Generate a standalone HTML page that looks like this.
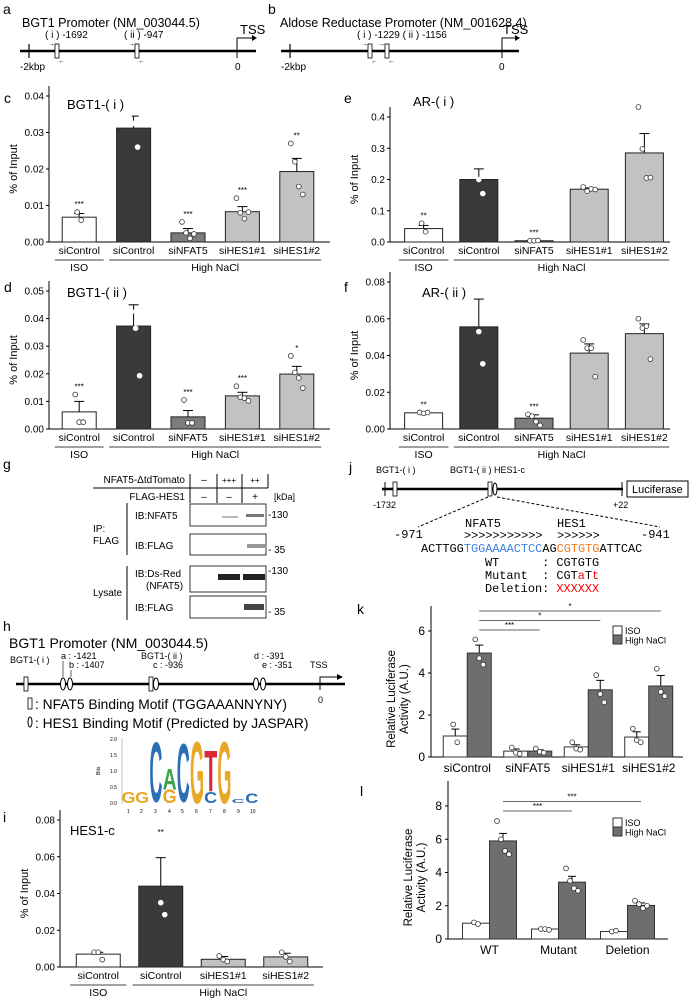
<!DOCTYPE html>
<html><head><meta charset="utf-8">
<style>
html,body{margin:0;padding:0;background:#fff;}
svg{display:block;font-family:"Liberation Sans",sans-serif;}
.mono{font-family:"Liberation Mono",monospace;white-space:pre;}
</style></head>
<body>
<svg id="fig" width="695" height="999" viewBox="0 0 695 999" xmlns="http://www.w3.org/2000/svg">
<!-- panel a -->
<g font-size="11">
<text x="3" y="14" font-size="14">a</text>
<text x="22" y="27" font-size="12.5">BGT1 Promoter (NM_003044.5)</text>
<line x1="20" y1="51" x2="256" y2="51" stroke="#000" stroke-width="2.5"/>
<line x1="29" y1="44" x2="29" y2="58" stroke="#000" stroke-width="1.2"/>
<text x="20" y="70" font-size="10">-2kbp</text>
<rect x="55" y="44" width="4" height="14" fill="#fff" stroke="#000" stroke-width="0.8"/>
<text x="45" y="38" font-size="10">( i ) -1692</text>
<text x="48" y="46" font-size="7">→</text><text x="58" y="63" font-size="7">←</text>
<rect x="135" y="44" width="4" height="14" fill="#fff" stroke="#000" stroke-width="0.8"/>
<text x="124" y="38" font-size="10">( ii ) -947</text>
<text x="128" y="46" font-size="7">→</text><text x="138" y="63" font-size="7">←</text>
<line x1="237" y1="44" x2="237" y2="58" stroke="#000"/>
<polyline points="237,44 237,38 252,38" fill="none" stroke="#000"/>
<polygon points="252,35 257,38 252,41" fill="#000"/>
<text x="240" y="34" font-size="13">TSS</text>
<text x="235" y="70" font-size="10">0</text>
</g>
<!-- panel b -->
<g font-size="11">
<text x="268" y="14" font-size="14">b</text>
<text x="280" y="27" font-size="12.5">Aldose Reductase Promoter (NM_001628.4)</text>
<line x1="281" y1="51" x2="519" y2="51" stroke="#000" stroke-width="2.5"/>
<line x1="290" y1="44" x2="290" y2="58" stroke="#000" stroke-width="1.2"/>
<text x="281" y="70" font-size="10">-2kbp</text>
<rect x="368" y="44" width="4" height="14" fill="#fff" stroke="#000" stroke-width="0.8"/>
<rect x="385" y="44" width="4" height="14" fill="#fff" stroke="#000" stroke-width="0.8"/>
<text x="357" y="38" font-size="10">( i ) -1229 ( ii ) -1156</text>
<text x="361" y="46" font-size="7">→</text><text x="371" y="63" font-size="7">←</text>
<text x="378" y="46" font-size="7">→</text><text x="388" y="63" font-size="7">←</text>
<line x1="502" y1="44" x2="502" y2="58" stroke="#000"/>
<polyline points="502,44 502,38 515,38" fill="none" stroke="#000"/>
<polygon points="515,35 520,38 515,41" fill="#000"/>
<text x="503" y="34" font-size="13">TSS</text>
<text x="499" y="70" font-size="10">0</text>
</g>
<text x="4" y="103" font-size="14">c</text>
<text x="4" y="292" font-size="14">d</text>
<text x="344" y="103" font-size="14">e</text>
<text x="344" y="292" font-size="14">f</text>
<!-- panel g -->
<g font-size="10">
<text x="3" y="469" font-size="14">g</text>
<text x="185" y="483" text-anchor="end">NFAT5-ΔtdTomato</text>
<text x="185" y="500" text-anchor="end">FLAG-HES1</text>
<line x1="93" y1="488" x2="268" y2="488" stroke="#000"/>
<line x1="190" y1="474" x2="190" y2="503" stroke="#000"/>
<line x1="217" y1="474" x2="217" y2="503" stroke="#000"/>
<line x1="242" y1="474" x2="242" y2="503" stroke="#000"/>
<line x1="268" y1="474" x2="268" y2="488" stroke="#000"/>
<text x="204" y="483" text-anchor="middle">–</text><text x="229" y="483" text-anchor="middle" font-size="8">+++</text><text x="255" y="483" text-anchor="middle" font-size="8">++</text>
<text x="204" y="500" text-anchor="middle">–</text><text x="229" y="500" text-anchor="middle">–</text><text x="255" y="500" text-anchor="middle">+</text>
<text x="274" y="500" font-size="9">[kDa]</text>
<rect x="190" y="504" width="76" height="22" fill="#fff" stroke="#000" stroke-width="0.8"/>
<rect x="190" y="534" width="76" height="21" fill="#fff" stroke="#000" stroke-width="0.8"/>
<rect x="190" y="566" width="76" height="26" fill="#fff" stroke="#000" stroke-width="0.8"/>
<rect x="190" y="596" width="76" height="22" fill="#fff" stroke="#000" stroke-width="0.8"/>
<rect x="222" y="516" width="16" height="2" fill="#bbb"/><rect x="246" y="514" width="18" height="3" fill="#777"/>
<rect x="247" y="544" width="18" height="4" fill="#999"/>
<rect x="218" y="574" width="22" height="6" fill="#222"/><rect x="243" y="574" width="22" height="6" fill="#222"/>
<rect x="244" y="604" width="20" height="6" fill="#444"/>
<text x="135" y="519">IB:NFAT5</text><text x="135" y="549">IB:FLAG</text>
<text x="135" y="577">IB:Ds-Red</text><text x="146" y="589">(NFAT5)</text>
<text x="135" y="611">IB:FLAG</text>
<line x1="127" y1="503" x2="127" y2="555" stroke="#000"/>
<line x1="127" y1="566" x2="127" y2="620" stroke="#000"/>
<text x="93" y="532">IP:</text><text x="93" y="544">FLAG</text>
<text x="93" y="596">Lysate</text>
<text x="268" y="518">-130</text><text x="268" y="553">- 35</text>
<text x="268" y="574">-130</text><text x="268" y="615">- 35</text>
</g>
<!-- panel h -->
<g font-size="9">
<text x="3" y="631" font-size="14">h</text>
<text x="9" y="648" font-size="14">BGT1 Promoter (NM_003044.5)</text>
<line x1="16" y1="684" x2="345" y2="684" stroke="#000" stroke-width="2.5"/>
<text x="10" y="663">BGT1-( i )</text>
<rect x="24" y="677" width="4" height="14" fill="#fff" stroke="#000" stroke-width="0.8"/>
<text x="61" y="659">a : -1421</text><text x="69" y="668">b : -1407</text>
<line x1="63" y1="661" x2="63" y2="677" stroke="#000" stroke-width="0.6"/><line x1="71" y1="670" x2="71" y2="677" stroke="#000" stroke-width="0.6"/>
<ellipse cx="63" cy="684" rx="2.5" ry="6" fill="#fff" stroke="#000"/><ellipse cx="70" cy="684" rx="2.5" ry="6" fill="#fff" stroke="#000"/>
<text x="141" y="659">BGT1-( ii )</text><text x="153" y="668">c : -936</text>
<rect x="149" y="677" width="4" height="14" fill="#fff" stroke="#000" stroke-width="0.8"/>
<ellipse cx="156" cy="684" rx="2.5" ry="6" fill="#fff" stroke="#000"/>
<text x="254" y="659">d : -391</text><text x="262" y="668">e : -351</text>
<ellipse cx="256" cy="684" rx="2.5" ry="6" fill="#fff" stroke="#000"/><ellipse cx="263" cy="684" rx="2.5" ry="6" fill="#fff" stroke="#000"/>
<text x="310" y="668">TSS</text>
<polyline points="320,690 320,677 338,677" fill="none" stroke="#000"/>
<polygon points="337,674 343,677 337,680" fill="#000"/>
<text x="318" y="703">0</text>
<rect x="28" y="698" width="4" height="11" fill="#fff" stroke="#000" stroke-width="0.8"/>
<text x="35" y="709" font-size="13.8">: NFAT5 Binding Motif (TGGAAANNYNY)</text>
<ellipse cx="30" cy="722" rx="2" ry="5" fill="#fff" stroke="#000"/>
<text x="35" y="728" font-size="13.8">: HES1 Binding Motif (Predicted by JASPAR)</text>
<g id="logo" font-size="5">
<line x1="122" y1="738" x2="122" y2="804" stroke="#888" stroke-width="0.5"/>
<text x="110" y="741">2.0</text><text x="110" y="757">1.5</text><text x="110" y="773">1.0</text><text x="110" y="789">0.5</text><text x="110" y="805">0.0</text>
<text x="100" y="775" transform="rotate(-90 100 775)">Bits</text>
<text x="127" y="813">1</text><text x="140" y="813">2</text><text x="154" y="813">3</text><text x="168" y="813">4</text><text x="181" y="813">5</text><text x="195" y="813">6</text><text x="209" y="813">7</text><text x="223" y="813">8</text><text x="237" y="813">9</text><text x="250" y="813">10</text>
</g>
</g>
<text x="3" y="822" font-size="14">i</text>
<!-- panel j -->
<g font-size="9">
<text x="349" y="472" font-size="14">j</text>
<text x="376" y="473">BGT1-( i )</text>
<text x="450" y="473">BGT1-( ii ) HES1-c</text>
<line x1="382" y1="489" x2="623" y2="489" stroke="#000" stroke-width="2.5"/>
<line x1="385" y1="482" x2="385" y2="496" stroke="#000"/>
<line x1="622" y1="482" x2="622" y2="496" stroke="#000"/>
<rect x="393" y="482" width="4" height="14" fill="#fff" stroke="#000" stroke-width="0.8"/>
<rect x="488" y="482" width="4" height="14" fill="#fff" stroke="#000" stroke-width="0.8"/>
<ellipse cx="495" cy="489" rx="2" ry="6" fill="#fff" stroke="#000"/>
<rect x="627" y="481" width="61" height="16" fill="#fff" stroke="#000"/>
<text x="632" y="493" font-size="11">Luciferase</text>
<text x="373" y="508">-1732</text><text x="613" y="508">+22</text>
<line x1="488" y1="497" x2="418" y2="527" stroke="#000" stroke-dasharray="3,2"/>
<line x1="497" y1="497" x2="660" y2="527" stroke="#000" stroke-dasharray="3,2"/>
<g class="mono" font-size="11.9">
<text x="394" y="538" font-size="12">-971</text><text x="641" y="538" font-size="12">-941</text>
<text x="465" y="527" font-size="12">NFAT5</text><text x="557" y="527" font-size="12">HES1</text>
<text x="464" y="539">&gt;&gt;&gt;&gt;&gt;&gt;&gt;&gt;&gt;&gt;&gt;</text>
<text x="557" y="539">&gt;&gt;&gt;&gt;&gt;&gt;</text>
<text x="421" y="552">ACTTGG<tspan fill="#3d7fe6">TGGAAAACTCC</tspan>AG<tspan fill="#f07a22">CGTGTG</tspan>ATTCAC</text>
<text x="485" y="566" xml:space="preserve">WT      : CGTGTG</text>
<text x="485" y="579" xml:space="preserve">Mutant  : CGT<tspan fill="red">a</tspan>T<tspan fill="red">t</tspan></text>
<text x="485" y="592" xml:space="preserve">Deletion: <tspan fill="red">XXXXXX</tspan></text>
</g>
</g>
<text x="357" y="614" font-size="14">k</text>
<text x="360" y="796" font-size="14">l</text>
<g id="charts"></g>
</svg>
<script>
// ---- data ----
const catsC = ['siControl','siControl','siNFAT5','siHES1#1','siHES1#2'];
const meanC = [0.0068,0.0312,0.0025,0.0083,0.0193];
const errC = [0.0010,0.0033,0.0012,0.0014,0.0036];
const ptsC = [[0.0082,0.0060],[0.035,0.0325,0.026],[0.0055,0.0025,0.0010,0.0022],[0.012,0.0080,0.0064,0.0082],[0.027,0.022,0.0152,0.013]];
const starsC = ['***','','***','***','**'];
const ticksC = ['0.00','0.01','0.02','0.03','0.04'];

const meanD = [0.0062,0.0373,0.0044,0.0120,0.0199];
const errD = [0.0038,0.0077,0.0023,0.0013,0.0028];
const ptsD = [[0.0125,0.0025,0.0025],[0.051,0.0425,0.0365,0.0193],[0.0105,0.0022,0.0022],[0.0155,0.0115,0.0112,0.0102],[0.0265,0.0205,0.0185,0.0148]];
const starsD = ['***','','***','***','*'];
const ticksD = ['0.00','0.01','0.02','0.03','0.04','0.05'];

const meanE = [0.043,0.200,0.004,0.169,0.285];
const errE = [0.010,0.034,0.001,0.004,0.062];
const ptsE = [[0.060,0.033],[0.250,0.200,0.155],[0.004,0.004,0.005],[0.176,0.163,0.170,0.168],[0.432,0.298,0.205,0.206]];
const starsE = ['**','','***','',''];
const ticksE = ['0.0','0.1','0.2','0.3','0.4'];

const meanF = [0.0088,0.0556,0.0059,0.0413,0.0519];
const errF = [0.0003,0.0151,0.0018,0.0050,0.0053];
const ptsF = [[0.0090,0.0085,0.0090],[0.078,0.053,0.0355],[0.0080,0.0070,0.0040,0.0020],[0.0485,0.044,0.044,0.0285],[0.060,0.055,0.056,0.038]];
const starsF = ['**','','***','',''];
const ticksF = ['0.00','0.02','0.04','0.06','0.08'];

const catsI = ['siControl','siControl','siHES1#1','siHES1#2'];
const meanI = [0.0070,0.0440,0.0042,0.0055];
const errI = [0.0010,0.0155,0.0015,0.0020];
const ptsI = [[0.008,0.008,0.004],[0.069,0.035,0.0285],[0.006,0.004,0.003],[0.008,0.0055,0.003]];
const starsI = ['','**','',''];
const ticksI = ['0.00','0.02','0.04','0.06','0.08'];

const catsK = ['siControl','siNFAT5','siHES1#1','siHES1#2'];
const isoK = [1.00,0.28,0.48,0.95];
const naclK = [4.95,0.28,3.20,3.38];
const isoErrK = [0.33,0.10,0.10,0.25];
const naclErrK = [0.38,0.06,0.45,0.50];
const isoPtsK = [[1.55,0.70],[0.45,0.20,0.15],[0.70,0.40,0.35],[1.35,0.80,0.70]];
const naclPtsK = [[5.6,4.7,4.4],[0.40,0.25,0.20],[3.9,3.0,2.6],[4.2,3.1,2.9]];
const ticksK = ['0','2','4','6'];
const sigK = [['***',2],['*',3],['*',4]];

const catsL = ['WT','Mutant','Deletion'];
const isoL = [0.95,0.60,0.45];
const naclL = [5.90,3.42,2.02];
const isoErrL = [0.05,0.04,0.04];
const naclErrL = [0.45,0.35,0.15];
const isoPtsL = [[1.0,0.9],[0.6,0.6,0.55],[0.45,0.5]];
const naclPtsL = [[7.1,6.0,5.3,5.1],[4.25,3.5,3.05,2.9],[2.3,2.1,1.85,2.0]];
const ticksL = ['0','2','4','6','8'];
const sigL = [['***',2],['***',3]];

// sequence logo: [letter, position, base bits, height bits, colour]
const logoLetters = ['G','G','C','G','A','C','G','C','T','G','C','C'];
const logoPos = [1,2,3,4,4,5,6,7,7,8,9,10];
const logoBase = [0,0,0.05,0,0.42,0.05,0,0,0.35,0,0,0];
const logoBits = [0.35,0.35,1.9,0.42,0.65,1.85,1.95,0.35,1.3,1.95,0.12,0.3];
const logoColors = ['#e8a825','#e8a825','#2a6fb5','#e8a825','#3aa54a','#2a6fb5','#e8a825','#2a6fb5','#d9263b','#e8a825','#2a6fb5','#2a6fb5'];

const NS = 'http://www.w3.org/2000/svg';
const root = document.getElementById('charts');
function mk(tag, attrs, parent, txt){
  const e = document.createElementNS(NS, tag);
  for (const k in attrs) e.setAttribute(k, attrs[k]);
  if (txt !== undefined) e.textContent = txt;
  (parent || root).appendChild(e);
  return e;
}

(function(){
  const lg = document.getElementById('logo');
  const bitPx = 32.5, y0 = 803;
  logoLetters.forEach((ch, i) => {
    const cx = 128.5 + (logoPos[i]-1) * 13.7;
    const bottom = y0 - logoBase[i] * bitPx;
    const h = logoBits[i] * bitPx;
    const w = ch === 'T' ? 61 : (ch === 'A' ? 67 : 72);
    const sx = 13 / w, sy = h / 72;
    const t = mk('text', {x:0, y:0, 'font-size':100, 'font-weight':'bold', fill:logoColors[i], 'text-anchor':'middle', transform:`translate(${cx} ${bottom}) scale(${sx} ${sy})`}, lg, ch);
    
    
  });
})();

function chipChart(o){
  const g = mk('g', {});
  
  
  const tickMax = parseFloat(o.ticks[o.ticks.length-1]);
  const y = v => o.yBot - v / tickMax * (o.yBot - o.yTop);
  const n = o.means.length;
  const step = (o.b1 - o.b0) / n;
  const cx = i => o.b0 + step * (i + 0.5);
  const fills = n === 5 ? ['#fff','#3a3a3a','#7d7d7d','#c2c2c2','#c2c2c2'] : ['#fff','#3a3a3a','#c2c2c2','#c2c2c2'];
  mk('line', {x1:o.ax, y1:o.yTop-10, x2:o.ax, y2:o.yBot, stroke:'#000', 'stroke-width':1}, g);
  mk('line', {x1:o.ax, y1:o.yBot, x2:o.xEnd, y2:o.yBot, stroke:'#000', 'stroke-width':1}, g);
  o.ticks.forEach(t => {
    const yy = y(parseFloat(t));
    mk('line', {x1:o.ax-3, y1:yy, x2:o.ax, y2:yy, stroke:'#000'}, g);
    const tl = mk('text', {x:o.ax-5, y:yy+3.5, 'text-anchor':'end', 'font-size':10}, g, t);
    
    
  });
  const yl = mk('text', {x:o.ax-32, y:(o.yTop+o.yBot)/2, 'text-anchor':'middle', 'font-size':11, transform:`rotate(-90 ${o.ax-32} ${(o.yTop+o.yBot)/2})`}, g, '% of Input');
  
  
  const tt = mk('text', {x:o.tx, y:o.ty, 'font-size':13}, g, o.title);
  
  
  o.means.forEach((m, i) => {
    const c = cx(i), w = o.barW;
    const top = y(m + o.errs[i]);
    mk('line', {x1:c, y1:y(m), x2:c, y2:top, stroke:'#000'}, g);
    mk('line', {x1:c-5, y1:top, x2:c+5, y2:top, stroke:'#000'}, g);
    const r = mk('rect', {x:c-w/2, y:y(m), width:w, height:o.yBot-y(m), fill:fills[i], stroke:'#222', 'stroke-width':1}, g);
    
    
    o.pts[i].forEach((p, j) => {
      const off = (j - (o.pts[i].length-1)/2) * 4;
      mk('circle', {cx:c+off, cy:y(p), r:2.4, fill:'#fff', stroke: i===1 ? '#fff' : '#333', 'stroke-width':0.8}, g);
    });
    if (o.stars[i]) {
      const maxp = Math.max(...o.pts[i], m + o.errs[i]);
      mk('text', {x:c, y:y(maxp)-5, 'text-anchor':'middle', 'font-size':8}, g, o.stars[i]);
    }
    const cl = mk('text', {x:c, y:o.labY, 'text-anchor':'middle', 'font-size':10.5}, g, o.cats[i]);
    
    
  });
  const ul = o.labY + 6;
  mk('line', {x1:cx(0)-step*0.45, y1:ul, x2:cx(0)+step*0.45, y2:ul, stroke:'#000', 'stroke-width':0.7}, g);
  mk('line', {x1:cx(1)-step*0.45, y1:ul, x2:cx(n-1)+step*0.45, y2:ul, stroke:'#000', 'stroke-width':0.7}, g);
  mk('text', {x:cx(0), y:ul+11, 'text-anchor':'middle', 'font-size':10.5}, g, 'ISO');
  mk('text', {x:(cx(1)+cx(n-1))/2, y:ul+11, 'text-anchor':'middle', 'font-size':10.5}, g, 'High NaCl');
}

chipChart({name:'chart-c-bgt1-i', cats:catsC, means:meanC, errs:errC, pts:ptsC, stars:starsC, ticks:ticksC, ax:49, xEnd:330, yTop:96, yBot:242, b0:52, b1:324, barW:34, labY:254, title:'BGT1-( i )', tx:67, ty:109});
chipChart({name:'chart-d-bgt1-ii', cats:catsC, means:meanD, errs:errD, pts:ptsD, stars:starsD, ticks:ticksD, ax:49, xEnd:330, yTop:291, yBot:429, b0:52, b1:324, barW:34, labY:441, title:'BGT1-( ii )', tx:67, ty:297});
chipChart({name:'chart-e-ar-i', cats:catsC, means:meanE, errs:errE, pts:ptsE, stars:starsE, ticks:ticksE, ax:390, xEnd:670, yTop:117, yBot:242, b0:396, b1:672, barW:38, labY:254, title:'AR-( i )', tx:413, ty:106});
chipChart({name:'chart-f-ar-ii', cats:catsC, means:meanF, errs:errF, pts:ptsF, stars:starsF, ticks:ticksF, ax:390, xEnd:670, yTop:282, yBot:429, b0:396, b1:672, barW:38, labY:441, title:'AR-( ii )', tx:422, ty:297});
chipChart({name:'chart-i-hes1-c', cats:catsI, means:meanI, errs:errI, pts:ptsI, stars:starsI, ticks:ticksI, ax:60, xEnd:323, yTop:820, yBot:967, b0:67, b1:317, barW:44, labY:979, title:'HES1-c', tx:70, ty:835});

function lucChart(o){
  const g = mk('g', {});
  
  
  const tickMax = parseFloat(o.ticks[o.ticks.length-1]);
  const y = v => o.yBot - v / tickMax * (o.yBot - o.yTop);
  const n = o.cats.length;
  const step = (o.b1 - o.b0) / n;
  const cx = i => o.b0 + step * (i + 0.5);
  mk('line', {x1:o.ax, y1:o.yTop-25, x2:o.ax, y2:o.yBot, stroke:'#000'}, g);
  mk('line', {x1:o.ax, y1:o.yBot, x2:o.xEnd, y2:o.yBot, stroke:'#000'}, g);
  o.ticks.forEach(t => {
    const yy = y(parseFloat(t));
    mk('line', {x1:o.ax-3, y1:yy, x2:o.ax, y2:yy, stroke:'#000'}, g);
    const tl = mk('text', {x:o.ax-6, y:yy+4, 'text-anchor':'end', 'font-size':12}, g, t);
    
    
  });
  const mx = o.ax - 30, my = (o.yTop + o.yBot)/2 + 5;
  const yl = mk('text', {x:mx, y:my, 'text-anchor':'middle', 'font-size':11.5, transform:`rotate(-90 ${mx} ${my})`}, g);
  
  
  mk('tspan', {x:mx, dy:-6}, yl, 'Relative Luciferase');
  mk('tspan', {x:mx, dy:13}, yl, 'Activity (A.U.)');
  const w = o.barW;
  const series = [[o.iso, o.isoErr, o.isoPts, '#fff', -1], [o.nacl, o.naclErr, o.naclPts, '#6e6e6e', 1]];
  o.cats.forEach((cat, i) => {
    const c = cx(i);
    series.forEach(([vals, errs, pts, fill, side], si) => {
      const bx = side < 0 ? c - w : c;
      const mid = bx + w/2;
      const m = vals[i], top = y(m + errs[i]);
      mk('line', {x1:mid, y1:y(m), x2:mid, y2:top, stroke:'#000'}, g);
      mk('line', {x1:mid-4, y1:top, x2:mid+4, y2:top, stroke:'#000'}, g);
      const r = mk('rect', {x:bx, y:y(m), width:w, height:o.yBot-y(m), fill:fill, stroke:'#333'}, g);
      
      
      pts[i].forEach((p, j) => {
        const off = (j - (pts[i].length-1)/2) * 4;
        mk('circle', {cx:mid+off, cy:y(p), r:2.4, fill:'#fff', stroke:'#333', 'stroke-width':0.8}, g);
      });
    });
    const cl = mk('text', {x:c, y:o.labY, 'text-anchor':'middle', 'font-size':12}, g, cat);
    
    
  });
  o.sig.forEach(([s, j], k) => {
    const yy = o.sigY0 - k * 9.5;
    const x1 = cx(0) + w/2, x2 = cx(j-1) + w/2;
    mk('line', {x1:x1, y1:yy, x2:x2, y2:yy, stroke:'#666', 'stroke-width':1}, g);
    mk('text', {x:(x1+x2)/2, y:yy-2, 'text-anchor':'middle', 'font-size':8}, g, s);
  });
  const lg = mk('g', {}, g);
  
  
  mk('rect', {x:613, y:o.legY, width:9, height:9, fill:'#fff', stroke:'#333'}, lg);
  mk('rect', {x:613, y:o.legY+9, width:9, height:9, fill:'#6e6e6e', stroke:'#333'}, lg);
  mk('text', {x:625, y:o.legY+8, 'font-size':9}, lg, 'ISO');
  mk('text', {x:625, y:o.legY+17.5, 'font-size':9}, lg, 'High NaCl');
}

lucChart({name:'chart-k-luciferase', cats:catsK, iso:isoK, nacl:naclK, isoErr:isoErrK, naclErr:naclErrK, isoPts:isoPtsK, naclPts:naclPtsK, ticks:ticksK, sig:sigK, ax:431, xEnd:683, yTop:631, yBot:757, b0:437, b1:679, barW:24, labY:772, sigY0:630, legY:626});
lucChart({name:'chart-l-luciferase-mutant', cats:catsL, iso:isoL, nacl:naclL, isoErr:isoErrL, naclErr:naclErrL, isoPts:isoPtsL, naclPts:naclPtsL, ticks:ticksL, sig:sigL, ax:448, xEnd:668, yTop:806, yBot:939, b0:455, b1:662, barW:27, labY:954, sigY0:811, legY:818});
</script>
</body></html>
